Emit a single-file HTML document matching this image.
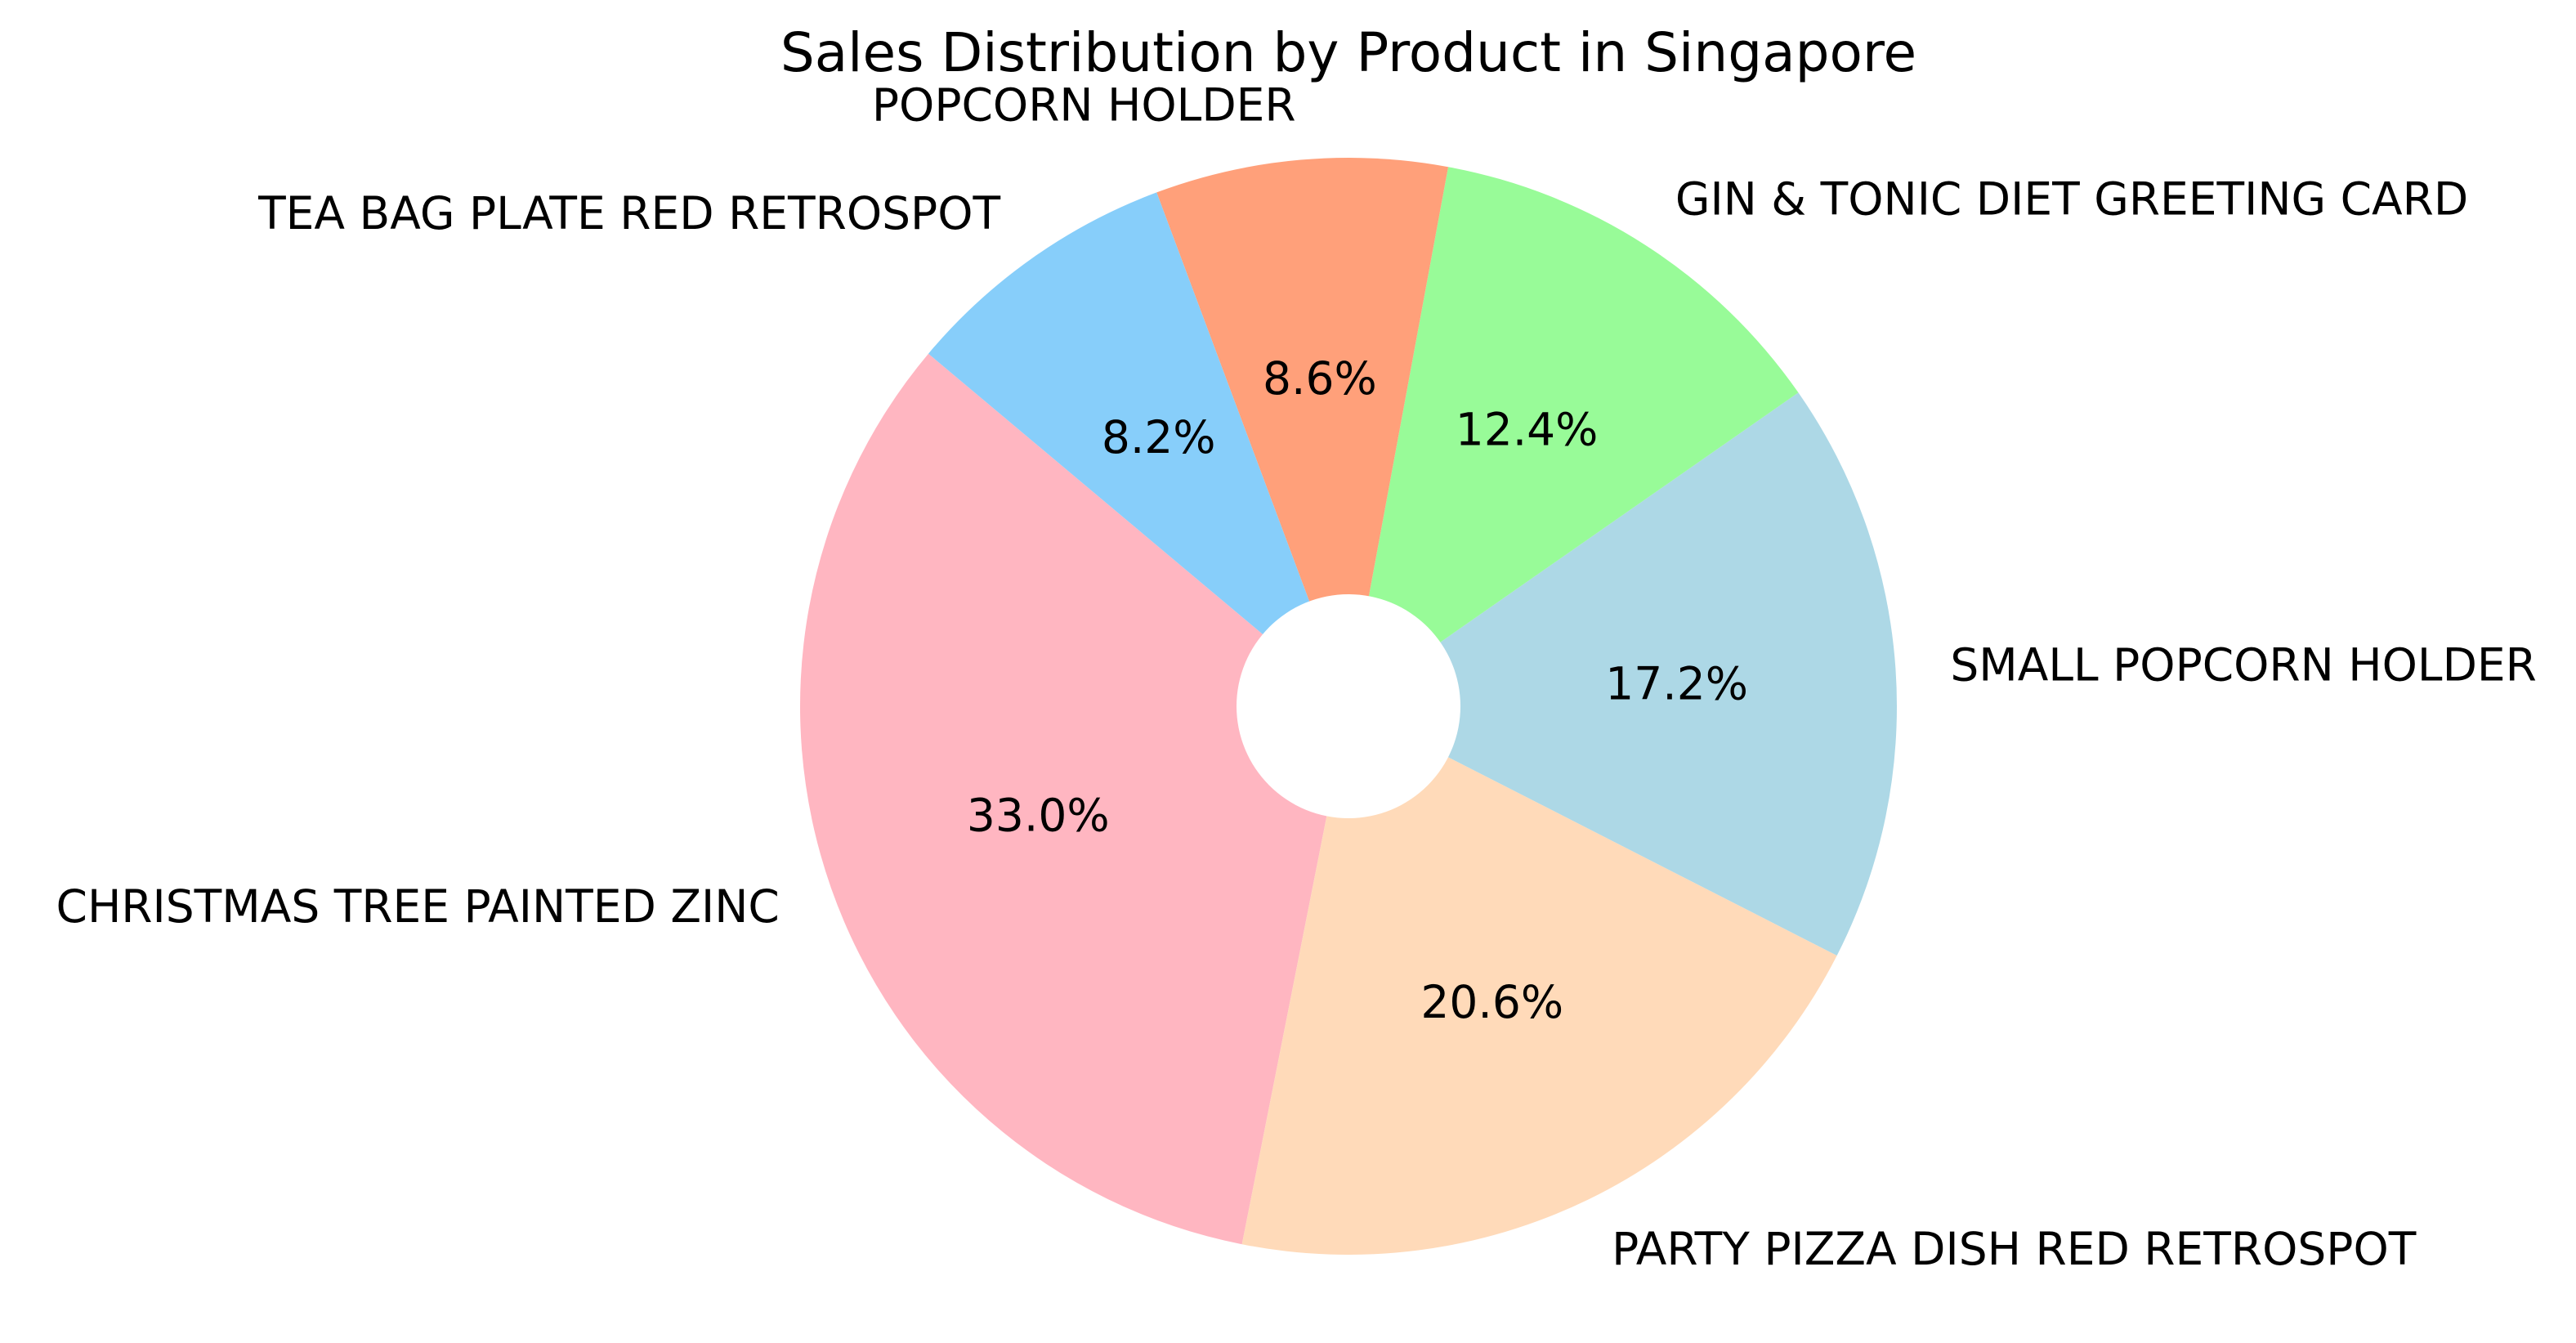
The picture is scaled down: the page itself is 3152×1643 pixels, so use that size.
<!DOCTYPE html>
<html><head><meta charset="utf-8"><style>
html,body{margin:0;padding:0;background:#fff;}
svg{display:block;}
text{font-family:"DejaVu Sans","Liberation Sans",sans-serif;fill:#000;}
</style></head><body>
<svg id="chart" width="3152" height="1643" viewBox="0 0 3152 1643">
<text x="1650" y="87" font-size="66" text-anchor="middle">Sales Distribution by Product in Singapore</text>
<g id="slices"></g><g id="labels"></g>
<circle cx="1650" cy="864" r="137" fill="#fff"/>
</svg>
<script>
const categories = ["CHRISTMAS TREE PAINTED ZINC","PARTY PIZZA DISH RED RETROSPOT","SMALL POPCORN HOLDER","GIN & TONIC DIET GREETING CARD","POPCORN HOLDER","TEA BAG PLATE RED RETROSPOT"];
const values = [33.0, 20.6, 17.2, 12.4, 8.6, 8.2];
const colors = ["#FFB6C1","#FFDAB9","#ADD8E6","#98FB98","#FFA07A","#87CEFA"];
const startAngle = 140;
const cx = 1650, cy = 864, R = 671;
const NS = "http://www.w3.org/2000/svg";
const total = values.reduce((a,b)=>a+b,0);
const sg = document.getElementById('slices'), lg = document.getElementById('labels');
function pt(a, r){const t=a*Math.PI/180;return [cx+r*Math.cos(t), cy-r*Math.sin(t)];}
let a0 = startAngle;
values.forEach((v,i)=>{
  const sweep = v/total*360, a1 = a0+sweep;
  const p0 = pt(a0,R), p1 = pt(a1,R);
  const path = document.createElementNS(NS,'path');
  path.setAttribute('d',`M${cx},${cy} L${p0[0]},${p0[1]} A${R},${R} 0 ${sweep>180?1:0} 0 ${p1[0]},${p1[1]} Z`);
  path.setAttribute('fill',colors[i]);
  
  
  sg.appendChild(path);
  const mid = (a0+a1)/2;
  const lp = pt(mid, R*1.1);
  const t = document.createElementNS(NS,'text');
  t.setAttribute('x',lp[0]); t.setAttribute('y',lp[1]);
  t.setAttribute('font-size','55');
  t.setAttribute('dominant-baseline','central');
  t.setAttribute('text-anchor', Math.cos(mid*Math.PI/180)>0?'start':'end');
  t.textContent = categories[i];
  
  
  lg.appendChild(t);
  const pp = pt(mid, R*0.6);
  const p = document.createElementNS(NS,'text');
  p.setAttribute('x',pp[0]); p.setAttribute('y',pp[1]);
  p.setAttribute('font-size','55');
  p.setAttribute('dominant-baseline','central');
  p.setAttribute('text-anchor','middle');
  p.textContent = (v/total*100).toFixed(1)+'%';
  
  
  lg.appendChild(p);
  a0 = a1;
});
</script>
</body></html>
